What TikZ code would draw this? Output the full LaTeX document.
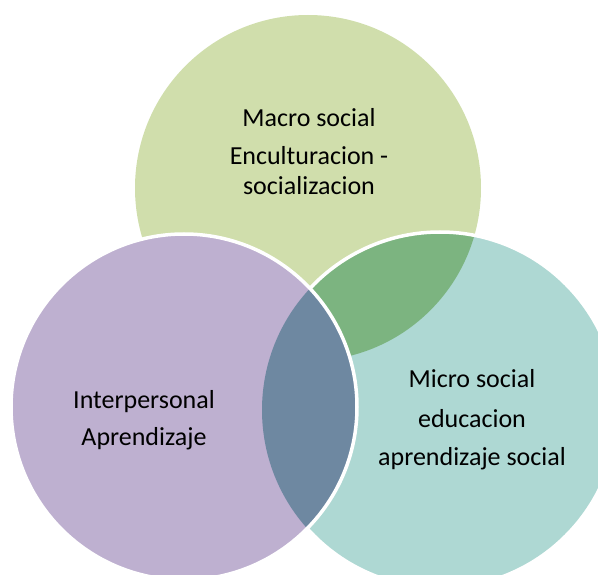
\documentclass[tikz,border=0pt]{standalone}
\usepackage{fontspec}
\setmainfont{Carlito}
\definecolor{cgreen}{HTML}{D0DEAC}
\definecolor{cpurple}{HTML}{BEB0D0}
\definecolor{cteal}{HTML}{AED8D3}
\definecolor{cgt}{HTML}{7CB480}
\definecolor{cpt}{HTML}{6E88A1}
\begin{document}
\begin{tikzpicture}[x=1pt,y=-1pt,
  lbl/.style={font=\fontsize{26}{30}\selectfont, anchor=base, inner sep=0pt, text=black},
  rim/.style={draw=white, line width=3.5pt}]
\useasboundingbox (0,0) rectangle (598,575);
\clip (0,0) rectangle (598,575);
% centres
\coordinate (G) at (308,188);
\coordinate (P) at (184,407);
\coordinate (T) at (440,410);
% green
\fill[cgreen] (G) circle[radius=173pt];
% teal
\fill[cteal] (T) circle[radius=178pt];
\begin{scope}
  \clip (G) circle[radius=173pt];
  \fill[cgt] (T) circle[radius=178pt];
\end{scope}
\draw[rim] (T) circle[radius=178pt];
% purple
\fill[cpurple] (P) circle[radius=173pt];
\begin{scope}
  \clip (P) circle[radius=173pt];
  \fill[cpt] (T) circle[radius=178pt];
\end{scope}
\draw[rim] (P) circle[radius=173pt];
% texts
\node[lbl] (g1) at (309,127) {Macro social};
\node[lbl] (g2) at (309,165) {Enculturacion -};
\node[lbl] (g3) at (309,195) {socializacion};
\node[lbl] (p1) at (144,408) {Interpersonal};
\node[lbl] (p2) at (144,445) {Aprendizaje};
\node[lbl] (t1) at (472,387) {Micro social};
\node[lbl] (t2) at (472,427) {educacion};
\node[lbl] (t3) at (472,465) {aprendizaje social};
\end{tikzpicture}
\end{document}
